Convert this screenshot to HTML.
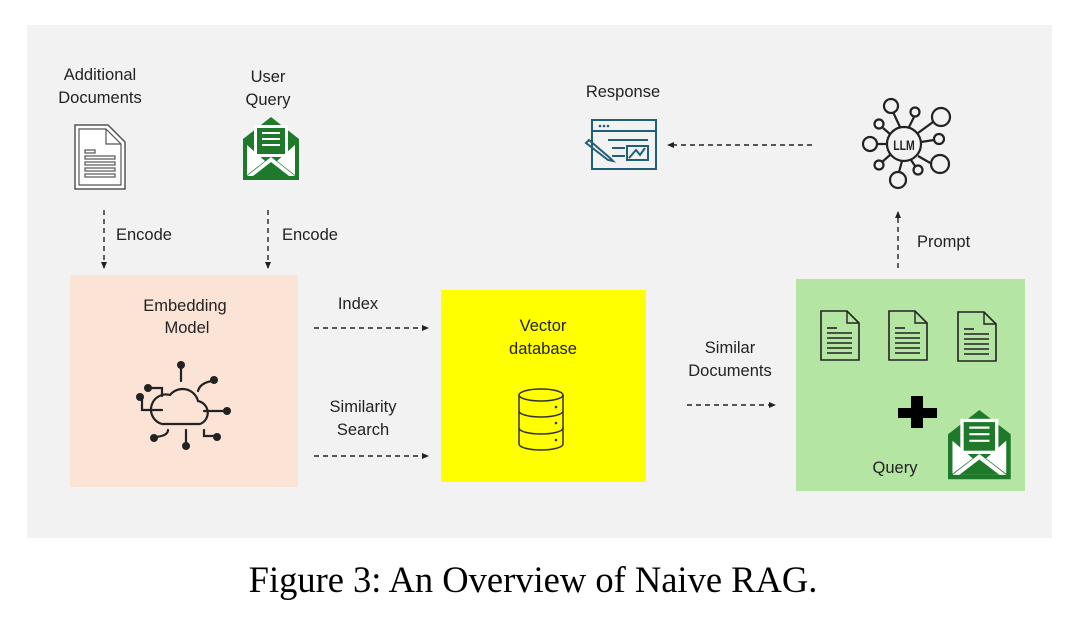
<!DOCTYPE html>
<html><head><style>
body{margin:0;background:#fff;width:1080px;height:624px;overflow:hidden}
svg text{font-family:"Liberation Sans",sans-serif;font-size:16.5px;fill:#222}
</style></head><body>
<svg width="1080" height="624" viewBox="0 0 1080 624" xmlns="http://www.w3.org/2000/svg">
<defs>
<marker id="a" markerWidth="8" markerHeight="8" refX="6" refY="4" orient="auto" markerUnits="userSpaceOnUse"><path d="M0,1 L7,4 L0,7z" fill="#222"/></marker>
<g id="doc"><path d="M0,0 H26 L38,12 V49 H0 Z" fill="none" stroke="#222" stroke-width="1.6"/><path d="M26,0 V12 H38" fill="none" stroke="#222" stroke-width="1.4"/>
<g stroke="#222" stroke-width="1.6"><line x1="6" y1="17" x2="16" y2="17"/><line x1="6" y1="22" x2="31" y2="22"/><line x1="6" y1="27" x2="31" y2="27"/><line x1="6" y1="32" x2="31" y2="32"/><line x1="6" y1="37" x2="31" y2="37"/><line x1="6" y1="42" x2="31" y2="42"/></g></g>
<g id="env"><path d="M0,22 L28,0 L56,22 V63 H0 Z" fill="#1e7a2a"/><rect x="11" y="8" width="34" height="32" fill="#fff"/><rect x="14" y="11" width="28" height="26" fill="#1e7a2a"/><g stroke="#fff" stroke-width="2"><line x1="19" y1="16" x2="37" y2="16"/><line x1="19" y1="22" x2="37" y2="22"/><line x1="19" y1="28" x2="37" y2="28"/></g>
<path d="M4,28 L22,44 L4,58 Z M52,28 L34,44 L52,58 Z" fill="#fff"/><path d="M4,59 L28,40 L52,59 Z" fill="#fff"/><path d="M10,59 L28,45 L46,59 Z" fill="#1e7a2a"/></g>
</defs>
<rect x="27" y="25" width="1025" height="513" fill="#f2f2f2"/>
<rect x="70" y="275" width="228" height="212" fill="#fbe3d6"/>
<rect x="441" y="290" width="205" height="192" fill="#ffff00"/>
<rect x="796" y="279" width="229" height="212" fill="#b4e5a2"/>

<text x="100" y="80" text-anchor="middle">Additional</text>
<text x="100" y="103" text-anchor="middle">Documents</text>
<text x="268" y="82" text-anchor="middle">User</text>
<text x="268" y="105" text-anchor="middle">Query</text>
<text x="116" y="240">Encode</text>
<text x="282" y="240">Encode</text>
<text x="185" y="311" text-anchor="middle">Embedding</text>
<text x="187" y="333" text-anchor="middle">Model</text>
<text x="358" y="309" text-anchor="middle">Index</text>
<text x="363" y="412" text-anchor="middle">Similarity</text>
<text x="363" y="435" text-anchor="middle">Search</text>
<text x="543" y="331" text-anchor="middle">Vector</text>
<text x="543" y="354" text-anchor="middle">database</text>
<text x="730" y="353" text-anchor="middle">Similar</text>
<text x="730" y="376" text-anchor="middle">Documents</text>
<text x="623" y="97" text-anchor="middle">Response</text>
<text x="917" y="247">Prompt</text>
<text x="895" y="473" text-anchor="middle">Query</text>

<g stroke="#222" stroke-width="1.4" stroke-dasharray="5,4" fill="none">
<line x1="104" y1="210" x2="104" y2="268" marker-end="url(#a)"/>
<line x1="268" y1="210" x2="268" y2="268" marker-end="url(#a)"/>
<line x1="314" y1="328" x2="428" y2="328" marker-end="url(#a)"/>
<line x1="314" y1="456" x2="428" y2="456" marker-end="url(#a)"/>
<line x1="687" y1="405" x2="775" y2="405" marker-end="url(#a)"/>
<line x1="812" y1="145" x2="668" y2="145" marker-end="url(#a)"/>
<line x1="898" y1="268" x2="898" y2="212" marker-end="url(#a)"/>
</g>

<g transform="translate(75,125)"><path d="M0,0 H33 L50,17 V64 H0 Z" fill="#fff" stroke="#555" stroke-width="1.5"/><path d="M4,4 H31 L46,19 V60 H4 Z" fill="none" stroke="#555" stroke-width="1.2"/><path d="M31,4 V19 H46" fill="none" stroke="#555" stroke-width="1.2"/>
<g fill="none" stroke="#555" stroke-width="1.2"><rect x="10" y="25" width="10" height="3"/><rect x="10" y="31" width="30" height="3"/><rect x="10" y="37" width="30" height="3"/><rect x="10" y="43" width="30" height="3"/><rect x="10" y="49" width="30" height="3"/></g></g>
<use href="#env" transform="translate(243,117)"/>
<use href="#env" transform="translate(948,410) scale(1.12,1.1)"/>

<g stroke="#222" stroke-width="2.2" fill="none" stroke-linecap="round">
<path d="M162,424 H200 A12,12 0 0 0 198,401 A16,16 0 0 0 170,395 A13,13 0 0 0 162,424 Z"/>
<line x1="181" y1="381" x2="181" y2="368"/><path d="M162,396 V388 H150"/><path d="M198,391 Q200,383 212,381"/><path d="M204,411 H225"/><path d="M162,410 H142 V399"/><path d="M168,430 Q168,436 155,437"/><line x1="186" y1="430" x2="186" y2="444"/><path d="M204,430 V436 H215"/></g>
<g fill="#222"><circle cx="181" cy="365" r="4"/><circle cx="148" cy="388" r="4"/><circle cx="214" cy="380" r="4"/><circle cx="227" cy="411" r="4"/><circle cx="140" cy="397" r="4"/><circle cx="154" cy="438" r="4"/><circle cx="186" cy="446" r="4"/><circle cx="217" cy="437" r="4"/></g>

<g stroke="#333" stroke-width="1.5" fill="none"><ellipse cx="541" cy="395" rx="22" ry="6"/><path d="M519,395 V444 A22,6 0 0 0 563,444 V395"/><path d="M519,411 A22,6 0 0 0 563,411 M519,428 A22,6 0 0 0 563,428"/></g>
<g fill="#333"><circle cx="556" cy="407" r="1.3"/><circle cx="556" cy="423" r="1.3"/><circle cx="556" cy="440" r="1.3"/></g>

<g stroke="#1f5f78" stroke-width="2" fill="none"><rect x="592" y="120" width="64" height="49"/><line x1="592" y1="131" x2="656" y2="131"/><line x1="608" y1="140" x2="648" y2="140"/><line x1="612" y1="148" x2="625" y2="148"/><line x1="612" y1="156" x2="625" y2="156"/><rect x="627" y="146" width="21" height="14"/><path d="M629,158 L636,150 L640,155 L645,148"/><path d="M589,140 L610,158 L613,161 L608,160 L586,143 Z"/></g>
<g fill="#1f5f78"><circle cx="600" cy="126" r="1.3"/><circle cx="604" cy="126" r="1.3"/><circle cx="608" cy="126" r="1.3"/></g>

<g stroke="#222" stroke-width="2.2" fill="none">
<circle cx="904" cy="144" r="17"/>
<line x1="900" y1="127" x2="893" y2="112"/><circle cx="891" cy="106" r="7"/>
<line x1="909" y1="127" x2="914" y2="117"/><circle cx="915" cy="112" r="4.5"/>
<line x1="918" y1="133" x2="933" y2="122"/><circle cx="941" cy="117" r="9"/>
<line x1="921" y1="142" x2="934" y2="140"/><circle cx="939" cy="139" r="5"/>
<line x1="918" y1="156" x2="932" y2="164"/><circle cx="940" cy="164" r="9"/>
<line x1="911" y1="160" x2="915" y2="166"/><circle cx="918" cy="170" r="4.5"/>
<line x1="902" y1="161" x2="899" y2="172"/><circle cx="898" cy="180" r="8"/>
<line x1="890" y1="155" x2="882" y2="162"/><circle cx="879" cy="165" r="4.5"/>
<line x1="887" y1="144" x2="877" y2="144"/><circle cx="870" cy="144" r="7"/>
<line x1="890" y1="134" x2="883" y2="128"/><circle cx="879" cy="124" r="4.5"/>
</g>
<text x="904" y="150" text-anchor="middle" style="font-size:14px;font-weight:bold" transform="translate(904,0) scale(0.75,1) translate(-904,0)">LLM</text>

<use href="#doc" transform="translate(821,311)"/>
<use href="#doc" transform="translate(889,311)"/>
<use href="#doc" transform="translate(958,312)"/>
<path d="M911,396 H923 V408 H937 V418 H923 V428 H911 V418 H898 V408 H911 Z" fill="#000"/>

<text x="533" y="592" text-anchor="middle" style="font-family:'Liberation Serif',serif;font-size:36.5px;fill:#000">Figure 3: An Overview of Naive RAG.</text>
</svg>
</body></html>
